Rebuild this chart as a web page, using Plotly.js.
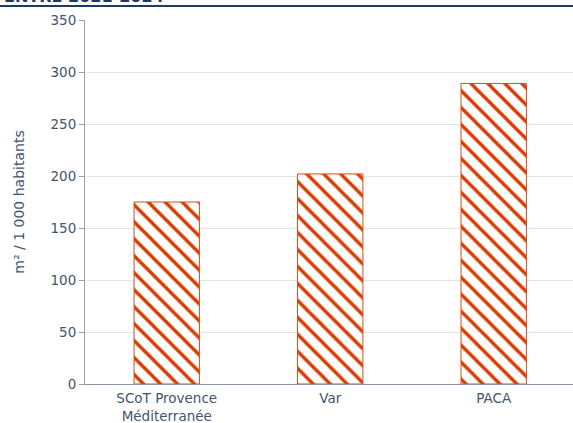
<!DOCTYPE html>
<html>
<head>
<meta charset="utf-8">
<script src="https://cdn.plot.ly/plotly-3.0.1.min.js"></script>
<style>html,body{margin:0;padding:0;background:#fff;}#chart{width:573px;height:423px;}</style>
</head>
<body>
<div id="chart"></div>
<script>
const categories = ['SCoT Provence<br>Méditerranée', 'Var', 'PACA'];
const values = [175, 202, 289];
const yTicks = [0, 50, 100, 150, 200, 250, 300, 350];
const titleText = 'ENTRE 2021-2024';
const yTitle = 'm² / 1 000 habitants';

const textColor = '#44546A';
const barColor = '#D63C00';

const trace = {
  type: 'bar',
  x: categories,
  y: values,
  width: 0.4,
  marker: {
    color: '#ffffff',
    pattern: {shape: '\\', fgcolor: barColor, bgcolor: '#ffffff', fgopacity: 1, size: 12, solidity: 0.28, fillmode: 'replace'},
    line: {color: '#DC4A1A', width: 1}
  },
  hoverinfo: 'none'
};

const layout = {
  width: 573, height: 423,
  margin: {l: 85, r: 0, t: 20, b: 39},
  paper_bgcolor: '#ffffff', plot_bgcolor: '#ffffff',
  font: {family: 'DejaVu Sans, Verdana, sans-serif', size: 13.5, color: textColor},
  showlegend: false,
  bargap: 0,
  xaxis: {
    type: 'category',
    range: [-0.5, 2.485],
    showline: true, linecolor: '#8C94A8', linewidth: 1,
    ticks: 'outside', ticklen: 2, tickcolor: 'rgba(0,0,0,0)',
    showgrid: false, zeroline: false,
    tickfont: {size: 13.5, color: textColor}
  },
  yaxis: {
    range: [0, 350],
    tickvals: yTicks,
    ticks: 'outside', ticklen: 5, tickcolor: '#A0A0A0',
    showline: true, linecolor: '#A0A0A0', linewidth: 1,
    showgrid: true, gridcolor: '#E3E3E3', gridwidth: 1,
    zeroline: false,
    tickfont: {size: 13.5, color: textColor},
    title: {text: yTitle, font: {size: 14, color: textColor}, standoff: 22}
  },
  shapes: [{
    type: 'line', xref: 'paper', yref: 'paper',
    x0: -85/488, x1: 1, y0: 1 + 14/364, y1: 1 + 14/364,
    line: {color: '#1F3864', width: 2}
  }],
  annotations: [{
    text: '<b>' + titleText + '</b>',
    xref: 'paper', yref: 'paper',
    x: -85/488, y: 1 + 12/364,
    xanchor: 'left', yanchor: 'bottom', xshift: 2,
    showarrow: false,
    font: {size: 16, color: '#1F3864', family: 'DejaVu Sans, Verdana, sans-serif'}
  }]
};

Plotly.newPlot('chart', [trace], layout, {displayModeBar: false, staticPlot: true});
</script>
</body>
</html>
